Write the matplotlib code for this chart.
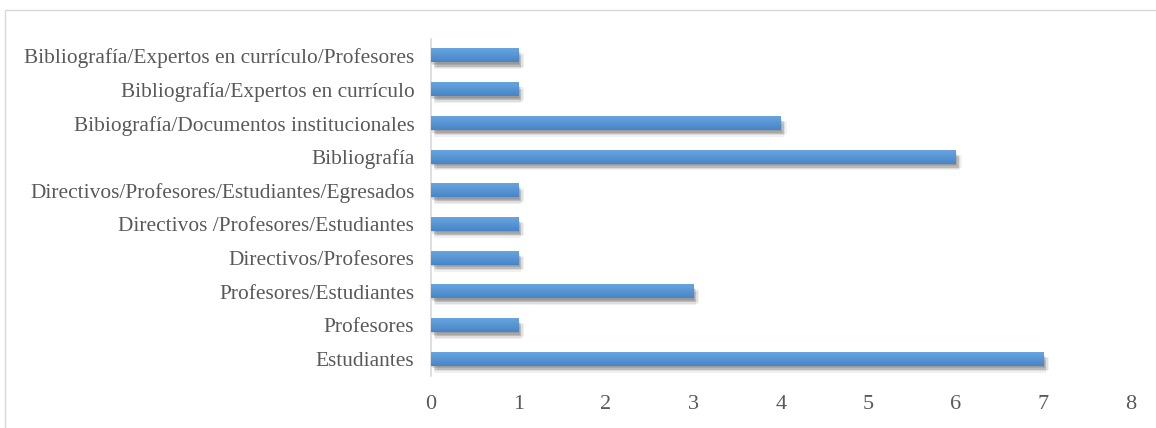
import matplotlib
matplotlib.use("Agg")
import matplotlib.pyplot as plt
from matplotlib import patheffects as pe
from matplotlib.patches import Rectangle
import numpy as np

categories = [
    "Estudiantes",
    "Profesores",
    "Profesores/Estudiantes",
    "Directivos/Profesores",
    "Directivos /Profesores/Estudiantes",
    "Directivos/Profesores/Estudiantes/Egresados",
    "Bibliografía",
    "Bibiografía/Documentos institucionales",
    "Bibliografía/Expertos en currículo",
    "Bibliografía/Expertos en currículo/Profesores",
]
values = [7, 1, 3, 1, 1, 1, 6, 4, 1, 1]
x_ticks = [0, 1, 2, 3, 4, 5, 6, 7, 8]

plt.rcParams["font.family"] = ["Liberation Serif", "DejaVu Serif"]
text_color = "#595959"

W, H = 1156, 428
fig = plt.figure(figsize=(W / 100, H / 100), dpi=100)
fig.patch.set_facecolor("white")

# outer chart frame
fig.add_artist(Rectangle((5 / W, -0.01), 1.05, 1 - 10 / H + 0.01, transform=fig.transFigure,
                         fill=False, edgecolor="#d9d9d9", linewidth=1.0))

ax = fig.add_axes([431 / W, 1 - 376 / H, (1131 - 431) / W, (376 - 39) / H])
y = np.arange(len(categories))
bars = ax.barh(y, values, height=0.39, color="#5b9bd5", edgecolor="none", zorder=3)

# soft drop shadow built from several faint offset layers
shadow_layers = []
for dx, dy, a in [(1, -2, 0.10), (2, -3, 0.10), (3, -4, 0.08), (2, -5, 0.06), (4, -3, 0.05), (0, -1, 0.08)]:
    shadow_layers.append(pe.SimplePatchShadow(offset=(dx, dy), shadow_rgbFace="#000000", alpha=a))

for b in bars:
    b.set_path_effects(shadow_layers + [pe.Normal()])
    # vertical gradient: lighter top, darker bottom
    x0, y0 = b.get_x(), b.get_y()
    w, h = b.get_width(), b.get_height()
    grad = np.linspace(0, 1, 32).reshape(-1, 1)
    top = np.array([0x68, 0xa5, 0xdf]) / 255
    bot = np.array([0x47, 0x85, 0xc7]) / 255
    img = (bot * grad[..., None] + top * (1 - grad[..., None]))
    img = np.repeat(img, 2, axis=1)
    ax.imshow(img, extent=(x0, x0 + w, y0 + h, y0), origin="lower", aspect="auto",
              zorder=4, interpolation="bilinear")

ax.set_xlim(0, 8)
ax.set_ylim(-0.5, len(categories) - 0.5)
ax.set_xticks(x_ticks)
ax.set_xticklabels([str(t) for t in x_ticks], fontsize=16, color=text_color)
ax.set_yticks(y)
ax.set_yticklabels(categories, fontsize=15.4, color=text_color)
ax.tick_params(axis="both", length=0)
ax.tick_params(axis="x", pad=14)
ax.tick_params(axis="y", pad=12)
for s in ["top", "right", "bottom"]:
    ax.spines[s].set_visible(False)
ax.spines["left"].set_color("#d9d9d9")
ax.spines["left"].set_linewidth(1.2)
ax.set_facecolor("none")

fig.savefig("out.png", dpi=100, facecolor="white")
